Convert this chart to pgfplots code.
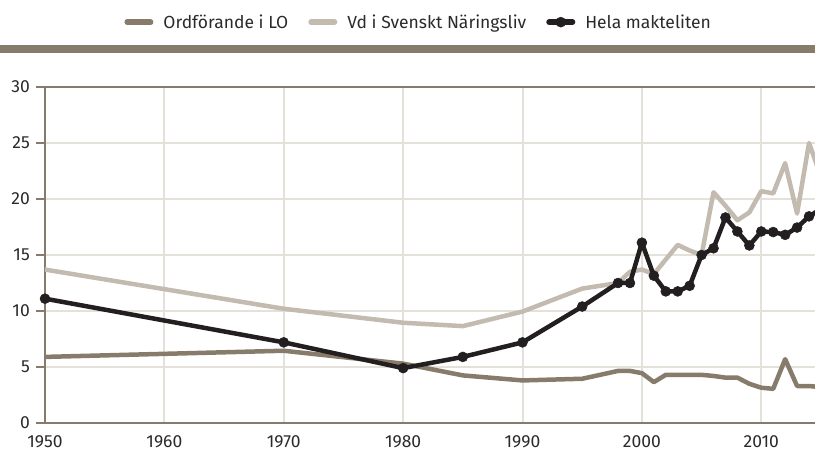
\documentclass[border=0pt]{standalone}
\usepackage{fontspec}
\setmainfont{Fira Sans}
\usepackage{pgfplots}
\pgfplotsset{compat=1.18}
\definecolor{locol}{HTML}{877C6C}
\definecolor{vdcol}{HTML}{C3BAB0}
\definecolor{helacol}{HTML}{231F20}
\definecolor{gridcol}{HTML}{E4E0DA}
\definecolor{axcol}{HTML}{857A6B}
\definecolor{txtcol}{HTML}{2B2A29}
\begin{document}
\begin{tikzpicture}[x=1pt,y=1pt]
\begin{axis}[
  at={(45pt,29pt)}, anchor=south west,
  scale only axis, width=770pt, height=336pt,
  xmin=1950, xmax=2014.5, ymin=0, ymax=30,
  xtick={1950,1960,...,2010}, ytick={0,5,...,30},
  xticklabel style={/pgf/number format/1000 sep={}},
  /pgf/number format/assume math mode=true,
  axis x line*=box, axis y line*=left,
  axis line style={draw=axcol, line width=2.2pt},
  x axis line style={-}, y axis line style={-},
  grid=major, grid style={draw=gridcol, line width=2pt},
  tick align=outside, major tick length=9pt,
  ytick style={draw=axcol, line width=2pt},
  xtick style={draw=none},
  ticklabel style={font=\fontsize{17.5}{20}\selectfont, text=txtcol},
  yticklabel style={inner sep=0pt, xshift=-6pt},
  xticklabel style={inner sep=0pt, yshift=-3pt},
  clip=true,
  legend style={at={(axis description cs:0.484,1.193)}, anchor=center, draw=none, fill=none,
    legend columns=3, font=\fontsize{17.5}{20}\selectfont, text=txtcol,
    /tikz/every even column/.append style={column sep=20pt},
    /tikz/every odd column/.append style={column sep=10pt},
    nodes={inner sep=0pt},
    legend cell align=left, inner sep=0pt},
  legend image code/.code={\draw[mark repeat=2,mark phase=2,line cap=round,line width=5.5pt,#1]
      plot coordinates {(2.75pt,0pt) (14.5pt,0pt) (26.25pt,0pt)};},
]
\addplot[color=locol, line width=4.5pt, line join=round, line cap=round] coordinates {
(1950,5.9) (1970,6.45) (1980,5.3) (1985,4.25) (1990,3.8) (1995,3.95) (1998,4.65) (1999,4.65)
(2000,4.45) (2001,3.65) (2002,4.3) (2003,4.3) (2004,4.3) (2005,4.3) (2006,4.2) (2007,4.05)
(2008,4.05) (2009,3.5) (2010,3.15) (2011,3.05) (2012,5.7) (2013,3.3) (2014,3.3) (2015,3.2)};
\addlegendentry{Ordförande i LO}
\addplot[color=vdcol, line width=4.5pt, line join=round, line cap=round] coordinates {
(1950,13.7) (1970,10.2) (1980,8.95) (1985,8.65) (1990,9.95) (1995,12.0) (1998,12.5) (1999,13.5)
(2000,13.7) (2001,13.3) (2002,14.6) (2003,15.9) (2004,15.4) (2005,15.0) (2006,20.6) (2007,19.4)
(2008,18.1) (2009,18.8) (2010,20.7) (2011,20.5) (2012,23.2) (2013,18.7) (2014,25.0) (2015,22.0)};
\addlegendentry{Vd i Svenskt Näringsliv}
\addplot[color=helacol, line width=4.5pt, line join=round, mark=*, mark size=5pt,
  mark options={solid, line width=0.5pt, draw=helacol, fill=helacol}] coordinates {
(1950,11.1) (1970,7.2) (1980,4.9) (1985,5.9) (1990,7.2) (1995,10.4) (1998,12.5) (1999,12.5)
(2000,16.1) (2001,13.15) (2002,11.75) (2003,11.75) (2004,12.25) (2005,15.0) (2006,15.6) (2007,18.35)
(2008,17.1) (2009,15.85) (2010,17.1) (2011,17.05) (2012,16.8) (2013,17.45) (2014,18.45) (2015,19.1)};
\addlegendentry{Hela makteliten}
\end{axis}
\draw[draw=locol, line width=8pt] (0pt,403pt) -- (815pt,403pt);
\pgfresetboundingbox
\path (0pt,0pt) rectangle (815pt,452pt);
\end{tikzpicture}
\end{document}
